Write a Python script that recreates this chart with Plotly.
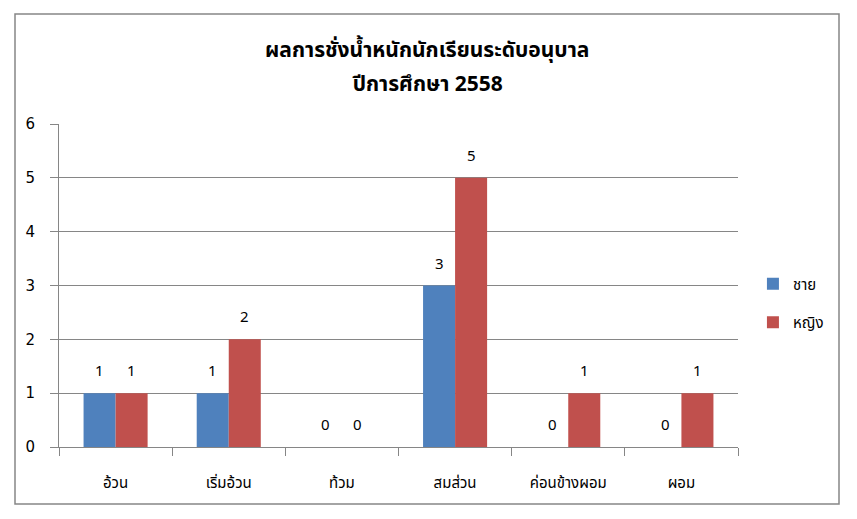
import plotly.graph_objects as go

categories = ["อ้วน", "เริ่มอ้วน", "ท้วม", "สมส่วน", "ค่อนข้างผอม", "ผอม"]
male = [1, 1, 0, 3, 0, 0]
female = [1, 2, 0, 5, 1, 1]
series_names = ["ชาย", "หญิง"]
colors = ["#4F81BD", "#C0504D"]
title_lines = ["ผลการชั่งน้ำหนักนักเรียนระดับอนุบาล", "ปีการศึกษา 2558"]
y_ticks = [0, 1, 2, 3, 4, 5, 6]

FONT = "Tahoma, 'Noto Sans Thai', 'Noto Sans', 'DejaVu Sans', sans-serif"

fig = go.Figure()
for name, vals, col, grp in zip(series_names, [male, female], colors, ["a", "b"]):
    fig.add_trace(go.Bar(x=categories, y=vals, name=name, marker_color=col,
                         marker_line_width=0, legendgroup=grp))

# data labels
for vals, shift in [(male, -16), (female, 16)]:
    for c, v in zip(categories, vals):
        fig.add_annotation(x=c, y=v, text=str(v), showarrow=False, xshift=shift,
                           yanchor="bottom", yshift=8,
                           font=dict(size=15, color="#000000", family=FONT))

# title lines (two separate annotations for exact spacing)
for line, ypix in zip(title_lines, [50, 85]):
    fig.add_annotation(text="<b>" + line + "</b>", xref="paper", yref="paper",
                       x=(427 - 59) / 679, y=(447 - ypix) / 323,
                       xanchor="center", yanchor="middle", showarrow=False,
                       font=dict(size=21, family=FONT, color="#000000"))

# page body has an 8px margin: shrink the figure by 8px so it fits the window
W, H = 849, 511
fig.update_layout(
    width=W, height=H,
    margin=dict(l=51, r=119, t=116, b=72, autoexpand=False),
    paper_bgcolor="white", plot_bgcolor="white",
    font=dict(family=FONT, size=14, color="#000000"),
    bargap=0.434, bargroupgap=0,
    legend=dict(x=1.022, y=0.446, xanchor="left", yanchor="middle",
                font=dict(size=15), traceorder="grouped", tracegroupgap=16,
                bgcolor="rgba(0,0,0,0)"),
    showlegend=True,
)
fig.update_xaxes(showline=True, linecolor="#868686", linewidth=1,
                 ticks="outside", ticklen=8, tickcolor="#868686", tickson="boundaries",
                 showgrid=False, tickfont=dict(size=15), ticklabelstandoff=22)
fig.update_yaxes(range=[0, 6], tickvals=y_ticks, showline=True, linecolor="#868686",
                 linewidth=1, ticks="outside", ticklen=8, tickcolor="#868686",
                 showgrid=True, gridcolor="#868686", gridwidth=1, zeroline=False,
                 ticklabelstandoff=12,
                 tickfont=dict(size=15, family="'DejaVu Sans', sans-serif"))

# outer chart border
fig.add_shape(type="rect", xref="paper", yref="paper",
              x0=(15 - 59) / 679, x1=(839 - 59) / 679,
              y0=(447 - 504) / 323, y1=(447 - 14) / 323,
              line=dict(color="#868686", width=1.5), layer="above")

fig.write_html("out.html")
